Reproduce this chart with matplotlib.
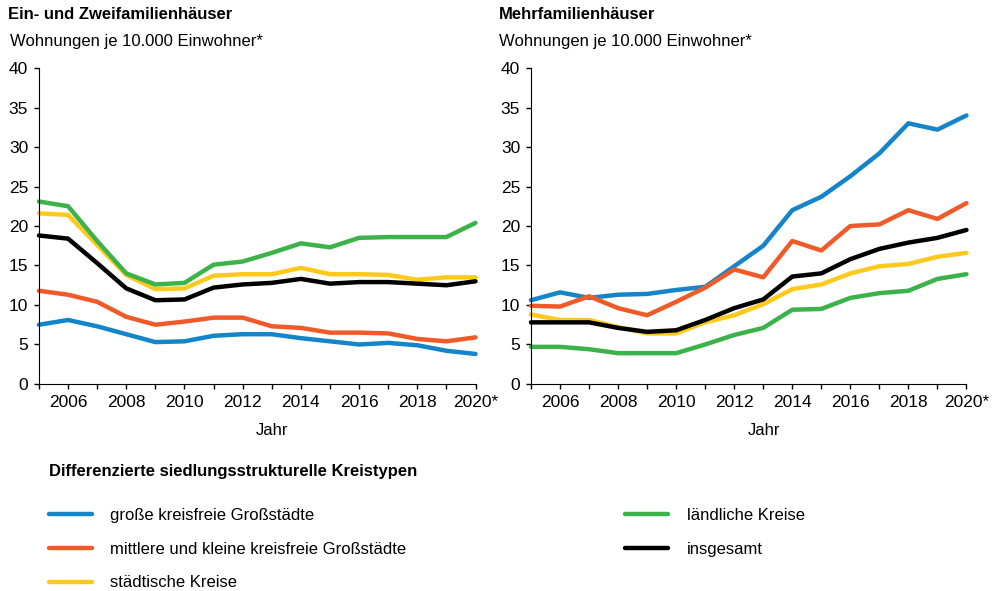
import matplotlib
matplotlib.use("Agg")
from matplotlib import pyplot as plt
from matplotlib.ticker import MultipleLocator

plt.rcParams['font.family'] = ['Liberation Sans', 'DejaVu Sans']

years = list(range(2005, 2021))
tick_years = [2006, 2008, 2010, 2012, 2014, 2016, 2018, 2020]
tick_labels = ["2006", "2008", "2010", "2012", "2014", "2016", "2018", "2020*"]

series_names = [
    "große kreisfreie Großstädte",
    "mittlere und kleine kreisfreie Großstädte",
    "städtische Kreise",
    "ländliche Kreise",
    "insgesamt",
]
colors = ["#1385c8", "#f05a28", "#fdca1c", "#3cb34a", "#000000"]

# Ein- und Zweifamilienhäuser
efh_gross = [7.5, 8.1, 7.3, 6.3, 5.3, 5.4, 6.1, 6.3, 6.3, 5.8, 5.4, 5.0, 5.2, 4.9, 4.2, 3.8]
efh_mittel = [11.8, 11.3, 10.4, 8.5, 7.5, 7.9, 8.4, 8.4, 7.3, 7.1, 6.5, 6.5, 6.4, 5.7, 5.4, 5.9]
efh_staedt = [21.6, 21.4, 17.6, 13.8, 12.0, 12.1, 13.7, 13.9, 13.9, 14.7, 13.9, 13.9, 13.8, 13.2, 13.5, 13.5]
efh_laendl = [23.1, 22.5, 18.1, 14.0, 12.6, 12.8, 15.1, 15.5, 16.6, 17.8, 17.3, 18.5, 18.6, 18.6, 18.6, 20.4]
efh_gesamt = [18.8, 18.4, 15.3, 12.1, 10.6, 10.7, 12.2, 12.6, 12.8, 13.3, 12.7, 12.9, 12.9, 12.7, 12.5, 13.0]

# Mehrfamilienhäuser
mfh_gross = [10.6, 11.6, 10.9, 11.3, 11.4, 11.9, 12.3, 14.9, 17.5, 22.0, 23.7, 26.3, 29.2, 33.0, 32.2, 34.0]
mfh_mittel = [9.9, 9.8, 11.1, 9.6, 8.7, 10.4, 12.2, 14.5, 13.5, 18.1, 16.9, 20.0, 20.2, 22.0, 20.9, 22.9]
mfh_staedt = [8.8, 8.1, 8.1, 7.2, 6.4, 6.4, 7.8, 8.7, 10.1, 12.0, 12.6, 14.0, 14.9, 15.2, 16.1, 16.6]
mfh_laendl = [4.7, 4.7, 4.4, 3.9, 3.9, 3.9, 5.0, 6.2, 7.1, 9.4, 9.5, 10.9, 11.5, 11.8, 13.3, 13.9]
mfh_gesamt = [7.8, 7.8, 7.8, 7.1, 6.6, 6.8, 8.1, 9.6, 10.7, 13.6, 14.0, 15.8, 17.1, 17.9, 18.5, 19.5]

efh_data = [efh_gross, efh_mittel, efh_staedt, efh_laendl, efh_gesamt]
mfh_data = [mfh_gross, mfh_mittel, mfh_staedt, mfh_laendl, mfh_gesamt]

fig = plt.figure(figsize=(9.94, 5.91), dpi=100)
ax1 = fig.add_axes([0.0392, 0.3503, 0.4392, 0.5346])
ax2 = fig.add_axes([0.5342, 0.3503, 0.4381, 0.5346])


def style_axis(ax):
    ax.set_xlim(2005, 2020)
    ax.set_ylim(0, 40)
    ax.spines["top"].set_visible(False)
    ax.spines["right"].set_visible(False)
    ax.set_xticks(tick_years)
    ax.set_xticklabels(tick_labels)
    ax.xaxis.set_minor_locator(MultipleLocator(1))
    ax.set_yticks(range(0, 41, 5))
    ax.tick_params(axis="both", which="both", direction="out", length=3.8, width=1, labelsize=12.5, pad=4)
    ax.set_xlabel("Jahr", fontsize=12)
    ax.xaxis.set_label_coords(0.534, -0.124)


for ax, data in [(ax1, efh_data), (ax2, mfh_data)]:
    for name, values, color in zip(series_names, data, colors):
        ax.plot(years, values, color=color, lw=3.2, label=name,
                solid_capstyle="round", solid_joinstyle="round", clip_on=False)
    style_axis(ax)

fig.text(0.008, 0.976, "Ein- und Zweifamilienhäuser", fontsize=12, fontweight="bold", va="center")
fig.text(0.010, 0.929, "Wohnungen je 10.000 Einwohner*", fontsize=12, va="center")
fig.text(0.502, 0.976, "Mehrfamilienhäuser", fontsize=12, fontweight="bold", va="center")
fig.text(0.502, 0.929, "Wohnungen je 10.000 Einwohner*", fontsize=12, va="center")

handles, labels = ax1.get_legend_handles_labels()
leg = fig.legend(handles, labels, ncol=2, loc="upper left", bbox_to_anchor=(0.034, 0.241),
                 frameon=False, fontsize=12, handlelength=2.6, handletextpad=1.1,
                 columnspacing=13.1, labelspacing=1.13,
                 title="Differenzierte siedlungsstrukturelle Kreistypen",
                 title_fontproperties={"weight": "bold", "size": 12}, alignment="left")
leg._legend_box.sep = 21

fig.savefig("out.png", dpi=100)
